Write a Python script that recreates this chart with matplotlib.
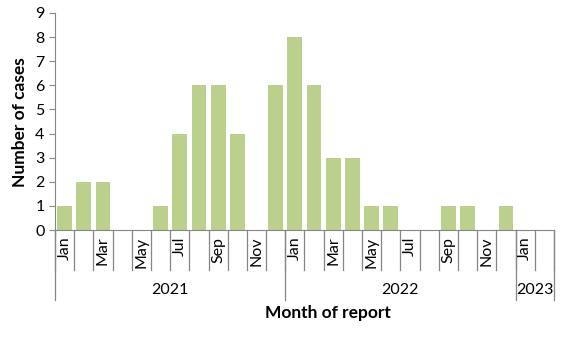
import numpy as np
import matplotlib.pyplot as plt

# monthly cases, Jan 2021 - Feb 2023
months = ['Jan', 'Feb', 'Mar', 'Apr', 'May', 'Jun',
          'Jul', 'Aug', 'Sep', 'Oct', 'Nov', 'Dec'] * 2 + ['Jan', 'Feb']
years = ['2021', '2022', '2023']
year_counts = [12, 12, 2]
cases = [1, 2, 2, 0, 0, 1, 4, 6, 6, 4, 0, 6,
         8, 6, 3, 3, 1, 1, 0, 0, 1, 1, 0, 1,
         0, 0]

plt.rcParams['font.family'] = ['Lato', 'DejaVu Sans']
grey = '#868686'

fig = plt.figure(figsize=(5.67, 3.41), dpi=100)
ax = fig.add_axes([0.097, 0.3255, 0.88, 0.6365])

x = np.arange(len(cases))
ax.bar(x, cases, width=0.77, color='#BBD08C')

ax.set_xlim(-0.5, len(cases) - 0.5)
ax.set_ylim(0, 9)
ax.set_yticks(range(0, 10))
ax.tick_params(axis='y', labelsize=11.5, color=grey, length=4)
ax.set_xticks([])

for s in ['top', 'right']:
    ax.spines[s].set_visible(False)
ax.spines['left'].set_color(grey)
ax.spines['bottom'].set_color(grey)

tr = ax.get_xaxis_transform()

# month tick separators and labels (every other month labelled)
for i in range(len(cases) + 1):
    ax.plot([i - 0.5, i - 0.5], [0, -0.184], color=grey, lw=0.9,
            transform=tr, clip_on=False)
for i, m in enumerate(months):
    if i % 2 == 0:
        ax.text(i, -0.03, m, rotation=90, ha='center', va='top',
                fontsize=11.5, transform=tr)

# year groups
start = 0
for yr, n in zip(years, year_counts):
    ax.plot([start - 0.5, start - 0.5], [0, -0.323], color=grey, lw=0.9,
            transform=tr, clip_on=False)
    ax.text(start + n / 2 - 0.5, -0.276, yr, ha='center', va='center',
            fontsize=11.5, transform=tr)
    start += n
ax.plot([start - 0.5, start - 0.5], [0, -0.323], color=grey, lw=0.9,
        transform=tr, clip_on=False)

fig.text(328 / 567, 1 - 313 / 341, 'Month of report', ha='center', va='center',
         fontsize=12.5, fontweight='bold')
fig.text(20 / 567, 1 - 122 / 341, 'Number of cases', ha='center', va='center',
         rotation=90, fontsize=12.5, fontweight='bold')

plt.savefig('out.png', dpi=100)
